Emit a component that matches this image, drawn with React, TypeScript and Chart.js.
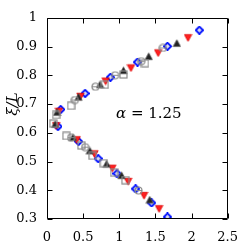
import React, { useEffect, useRef } from "react";
import { Chart, registerables } from "chart.js";
Chart.register(...registerables);

// ---- data ----
const xTicks = [0, 0.5, 1, 1.5, 2, 2.5];
const xTickLabels = ["0", "0.5", "1", "1.5", "2", "2.5"];
const yTicks = [0.3, 0.4, 0.5, 0.6, 0.7, 0.8, 0.9, 1];
const yTickLabels = ["0.3", "0.4", "0.5", "0.6", "0.7", "0.8", "0.9", "1"];

const squareX = [0.087, 0.126, 0.333, 0.799, 1.058, 1.356, 0.268, 0.475, 0.631, 0.786, 0.929, 1.084];
const squareY = [0.632, 0.662, 0.694, 0.767, 0.803, 0.842, 0.589, 0.556, 0.52, 0.494, 0.461, 0.435];

const circleX = [0.385, 0.67, 0.942, 1.304, 1.603, 0.333, 0.527, 1.266];
const circleY = [0.714, 0.76, 0.8, 0.849, 0.895, 0.583, 0.55, 0.399];

const triUpX = [0.139, 0.436, 0.734, 1.058, 1.408, 1.797, 0.113, 0.359, 0.592, 0.825, 1.032, 1.421];
const triUpY = [0.671, 0.724, 0.767, 0.816, 0.865, 0.911, 0.629, 0.583, 0.537, 0.491, 0.451, 0.366];

const triDownX = [0.165, 0.462, 0.812, 1.162, 1.538, 1.952, 0.126, 0.411, 0.657, 0.903, 1.123, 1.343, 1.551];
const triDownY = [0.675, 0.727, 0.78, 0.826, 0.878, 0.931, 0.625, 0.576, 0.527, 0.477, 0.431, 0.382, 0.336];

const diamondX = [0.19, 0.527, 0.877, 1.253, 1.667, 2.108, 0.152, 0.436, 0.709, 0.968, 1.227, 1.447, 1.667];
const diamondY = [0.681, 0.737, 0.793, 0.846, 0.901, 0.957, 0.622, 0.57, 0.51, 0.458, 0.405, 0.356, 0.307];

const alphaLabel = "1.25";
const yTitle = "ξ/L";

function makeMarker(size: number, draw: (c: CanvasRenderingContext2D) => void) {
  const cv = document.createElement("canvas");
  cv.width = size;
  cv.height = size;
  const c = cv.getContext("2d")!;
  draw(c);
  return cv;
}

const pts = (xs: number[], ys: number[]) => xs.map((x, i) => ({ x, y: ys[i] }));

const framePlugin = {
  id: "frame",
  afterDraw(chart: any) {
    const { ctx, chartArea: a, scales } = chart;
    const L = Math.round(a.left) + 0.5;
    const R = Math.round(a.right) - 0.5;
    const T = Math.round(a.top) + 0.5;
    const B = Math.round(a.bottom) - 0.5;
    ctx.save();
    ctx.strokeStyle = "#000";
    ctx.lineWidth = 1;
    ctx.beginPath();
    ctx.rect(L, T, R - L, B - T);
    const tl = 5;
    xTicks.forEach((v) => {
      const px = Math.round(scales.x.getPixelForValue(v)) + 0.5;
      ctx.moveTo(px, B);
      ctx.lineTo(px, B - tl);
      ctx.moveTo(px, T);
      ctx.lineTo(px, T + tl);
    });
    yTicks.forEach((v) => {
      const py = Math.round(scales.y.getPixelForValue(v)) + 0.5;
      ctx.moveTo(L, py);
      ctx.lineTo(L + tl, py);
      ctx.moveTo(R, py);
      ctx.lineTo(R - tl, py);
    });
    ctx.stroke();

    // y title
    ctx.fillStyle = "#000";
    ctx.save();
    ctx.translate(13, 104);
    ctx.rotate(-Math.PI / 2);
    ctx.font = "italic 15px 'DejaVu Serif'";
    ctx.textAlign = "center";
    ctx.textBaseline = "middle";
    ctx.fillText(yTitle, 0, 0);
    ctx.restore();

    // alpha annotation
    ctx.textBaseline = "alphabetic";
    ctx.textAlign = "left";
    ctx.font = "italic 15px 'DejaVu Serif'";
    const x0 = 116;
    const yb = 118;
    ctx.fillText("α", x0, yb);
    const w = ctx.measureText("α").width;
    ctx.font = "15px 'DejaVu Serif'";
    ctx.fillText(" = " + alphaLabel, x0 + w, yb);
    ctx.restore();
  },
};

export default function App() {
  const ref = useRef<HTMLCanvasElement>(null);
  useEffect(() => {
    const gray = "#8a8a8a";
    const sq = makeMarker(9, (c) => {
      c.strokeStyle = gray;
      c.lineWidth = 1.2;
      c.strokeRect(1, 1, 7, 7);
    });
    const ci = makeMarker(9, (c) => {
      c.strokeStyle = gray;
      c.lineWidth = 1.2;
      c.beginPath();
      c.arc(4.5, 4.5, 3.5, 0, Math.PI * 2);
      c.moveTo(1, 4.5);
      c.lineTo(8, 4.5);
      c.stroke();
    });
    const tu = makeMarker(9, (c) => {
      c.beginPath();
      c.moveTo(4.5, 0.8);
      c.lineTo(8.2, 7.6);
      c.lineTo(0.8, 7.6);
      c.closePath();
      c.fillStyle = "#222";
      c.fill();
      c.strokeStyle = "#555";
      c.lineWidth = 0.8;
      c.stroke();
    });
    const td = makeMarker(9, (c) => {
      c.beginPath();
      c.moveTo(0.8, 1.4);
      c.lineTo(8.2, 1.4);
      c.lineTo(4.5, 8.2);
      c.closePath();
      c.fillStyle = "#ff2020";
      c.fill();
      c.strokeStyle = "#e00000";
      c.lineWidth = 0.8;
      c.stroke();
    });
    const di = makeMarker(9, (c) => {
      c.beginPath();
      c.moveTo(4.5, 0.8);
      c.lineTo(8.2, 4.5);
      c.lineTo(4.5, 8.2);
      c.lineTo(0.8, 4.5);
      c.closePath();
      c.fillStyle = "#dde";
      c.fill();
      c.strokeStyle = "#0010ff";
      c.lineWidth = 1.8;
      c.stroke();
    });

    const mk = (label: string, xs: number[], ys: number[], style: HTMLCanvasElement) => ({
      label,
      data: pts(xs, ys),
      pointStyle: style,
      pointRadius: 4,
      showLine: false,
    });

    const tickFont = { family: "'DejaVu Serif'", size: 13 };
    const chart = new Chart(ref.current!, {
      type: "scatter",
      data: {
        datasets: [
          mk("squares", squareX, squareY, sq),
          mk("circles", circleX, circleY, ci),
          mk("up", triUpX, triUpY, tu),
          mk("down", triDownX, triDownY, td),
          mk("diamond", diamondX, diamondY, di),
        ],
      },
      options: {
        animation: false,
        responsive: false,
        devicePixelRatio: 1,
        layout: { padding: { top: 6, right: 9, left: 0, bottom: 0 } },
        plugins: { legend: { display: false }, tooltip: { enabled: false } },
        scales: {
          x: {
            type: "linear",
            min: 0,
            max: 2.5,
            grid: { display: false, drawTicks: false },
            border: { display: false },
            ticks: {
              font: tickFont,
              color: "#000",
              padding: 11,
              maxRotation: 0,
              callback: (v: number) => {
                const i = xTicks.indexOf(v);
                return i >= 0 ? xTickLabels[i] : "";
              },
            },
            afterBuildTicks: (s: any) => {
              s.ticks = xTicks.map((v) => ({ value: v }));
            },
            afterFit: (s: any) => {
              s.height = 22;
            },
          },
          y: {
            type: "linear",
            min: 0.3,
            max: 1,
            grid: { display: false, drawTicks: false },
            border: { display: false },
            ticks: {
              font: tickFont,
              color: "#000",
              padding: 10,
              callback: (v: number) => {
                const i = yTicks.findIndex((t) => Math.abs(t - v) < 1e-9);
                return i >= 0 ? yTickLabels[i] : "";
              },
            },
            afterBuildTicks: (s: any) => {
              s.ticks = yTicks.map((v) => ({ value: v }));
            },
            afterFit: (s: any) => {
              s.width = 47;
            },
          },
        },
      } as any,
      plugins: [framePlugin],
    });
    return () => chart.destroy();
  }, []);
  return (
    <div style={{ position: "fixed", left: 0, top: 0, width: 249, height: 241, background: "#fff" }}>
      <canvas ref={ref} width={249} height={241} style={{ display: "block" }} />
    </div>
  );
}
